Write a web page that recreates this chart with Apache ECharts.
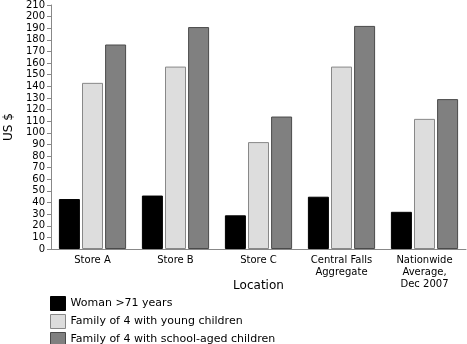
<!DOCTYPE html>
<html><head><meta charset="utf-8">
<script src="https://cdn.jsdelivr.net/npm/echarts@6/dist/echarts.min.js"></script>
<style>html,body{margin:0;padding:0;background:#fff;}#c{width:467px;height:344px;}</style>
</head><body><div id="c"></div>
<script>
const categories = ['Store A', 'Store B', 'Store C', 'Central Falls\nAggregate', 'Nationwide\nAverage,\nDec 2007'];
const seriesNames = ['Woman >71 years', 'Family of 4 with young children', 'Family of 4 with school-aged children'];
const woman = [43, 46, 29, 45, 32];
const familyYoung = [143, 157, 92, 157, 112];
const familySchool = [176, 191, 114, 192, 129];
const fills = ['#000000', '#dddddd', '#808080'];
const borders = ['#000000', '#888888', '#4a4a4a'];
const font = 'DejaVu Sans, Verdana, sans-serif';
const chart = echarts.init(document.getElementById('c'), null, {renderer: 'canvas'});
const mk = (i, data) => ({
  name: seriesNames[i], type: 'bar', data: data, barWidth: 21, barGap: '10%',
  itemStyle: {color: fills[i], borderColor: borders[i], borderWidth: 1},
  animation: false
});
chart.setOption({
  animation: false,
  grid: {left: 51, right: 1, top: 5, bottom: 95, containLabel: false, outerBoundsMode: 'none'},
  legend: {
    orient: 'vertical', left: 50, top: 296, height: 60, padding: 0, itemWidth: 15, itemHeight: 14, itemGap: 3,
    icon: 'rect', textStyle: {fontFamily: font, fontSize: 11, color: '#000'},
    data: seriesNames.map((n, i) => ({name: n, itemStyle: {color: fills[i], borderColor: borders[i], borderWidth: 1}}))
  },
  xAxis: {
    type: 'category', data: categories, name: 'Location', nameLocation: 'middle', nameGap: 31,
    nameMoveOverlap: false,
    nameTextStyle: {fontFamily: font, fontSize: 12, color: '#000'},
    axisLine: {lineStyle: {color: '#888', width: 1}}, axisTick: {show: false},
    axisLabel: {fontFamily: font, fontSize: 10, color: '#000', margin: 5, lineHeight: 12, interval: 0}
  },
  yAxis: {
    type: 'value', min: 0, max: 210, interval: 10, name: 'US $', nameLocation: 'middle', nameGap: 36,
    nameMoveOverlap: false,
    nameRotate: 90, nameTextStyle: {fontFamily: font, fontSize: 12, color: '#000'},
    axisLine: {show: true, lineStyle: {color: '#888', width: 1}},
    axisTick: {show: true, length: 4, lineStyle: {color: '#888'}},
    splitLine: {show: false},
    axisLabel: {fontFamily: font, fontSize: 10, color: '#000', margin: 6}
  },
  series: [mk(0, woman), mk(1, familyYoung), mk(2, familySchool)]
});
</script></body></html>
